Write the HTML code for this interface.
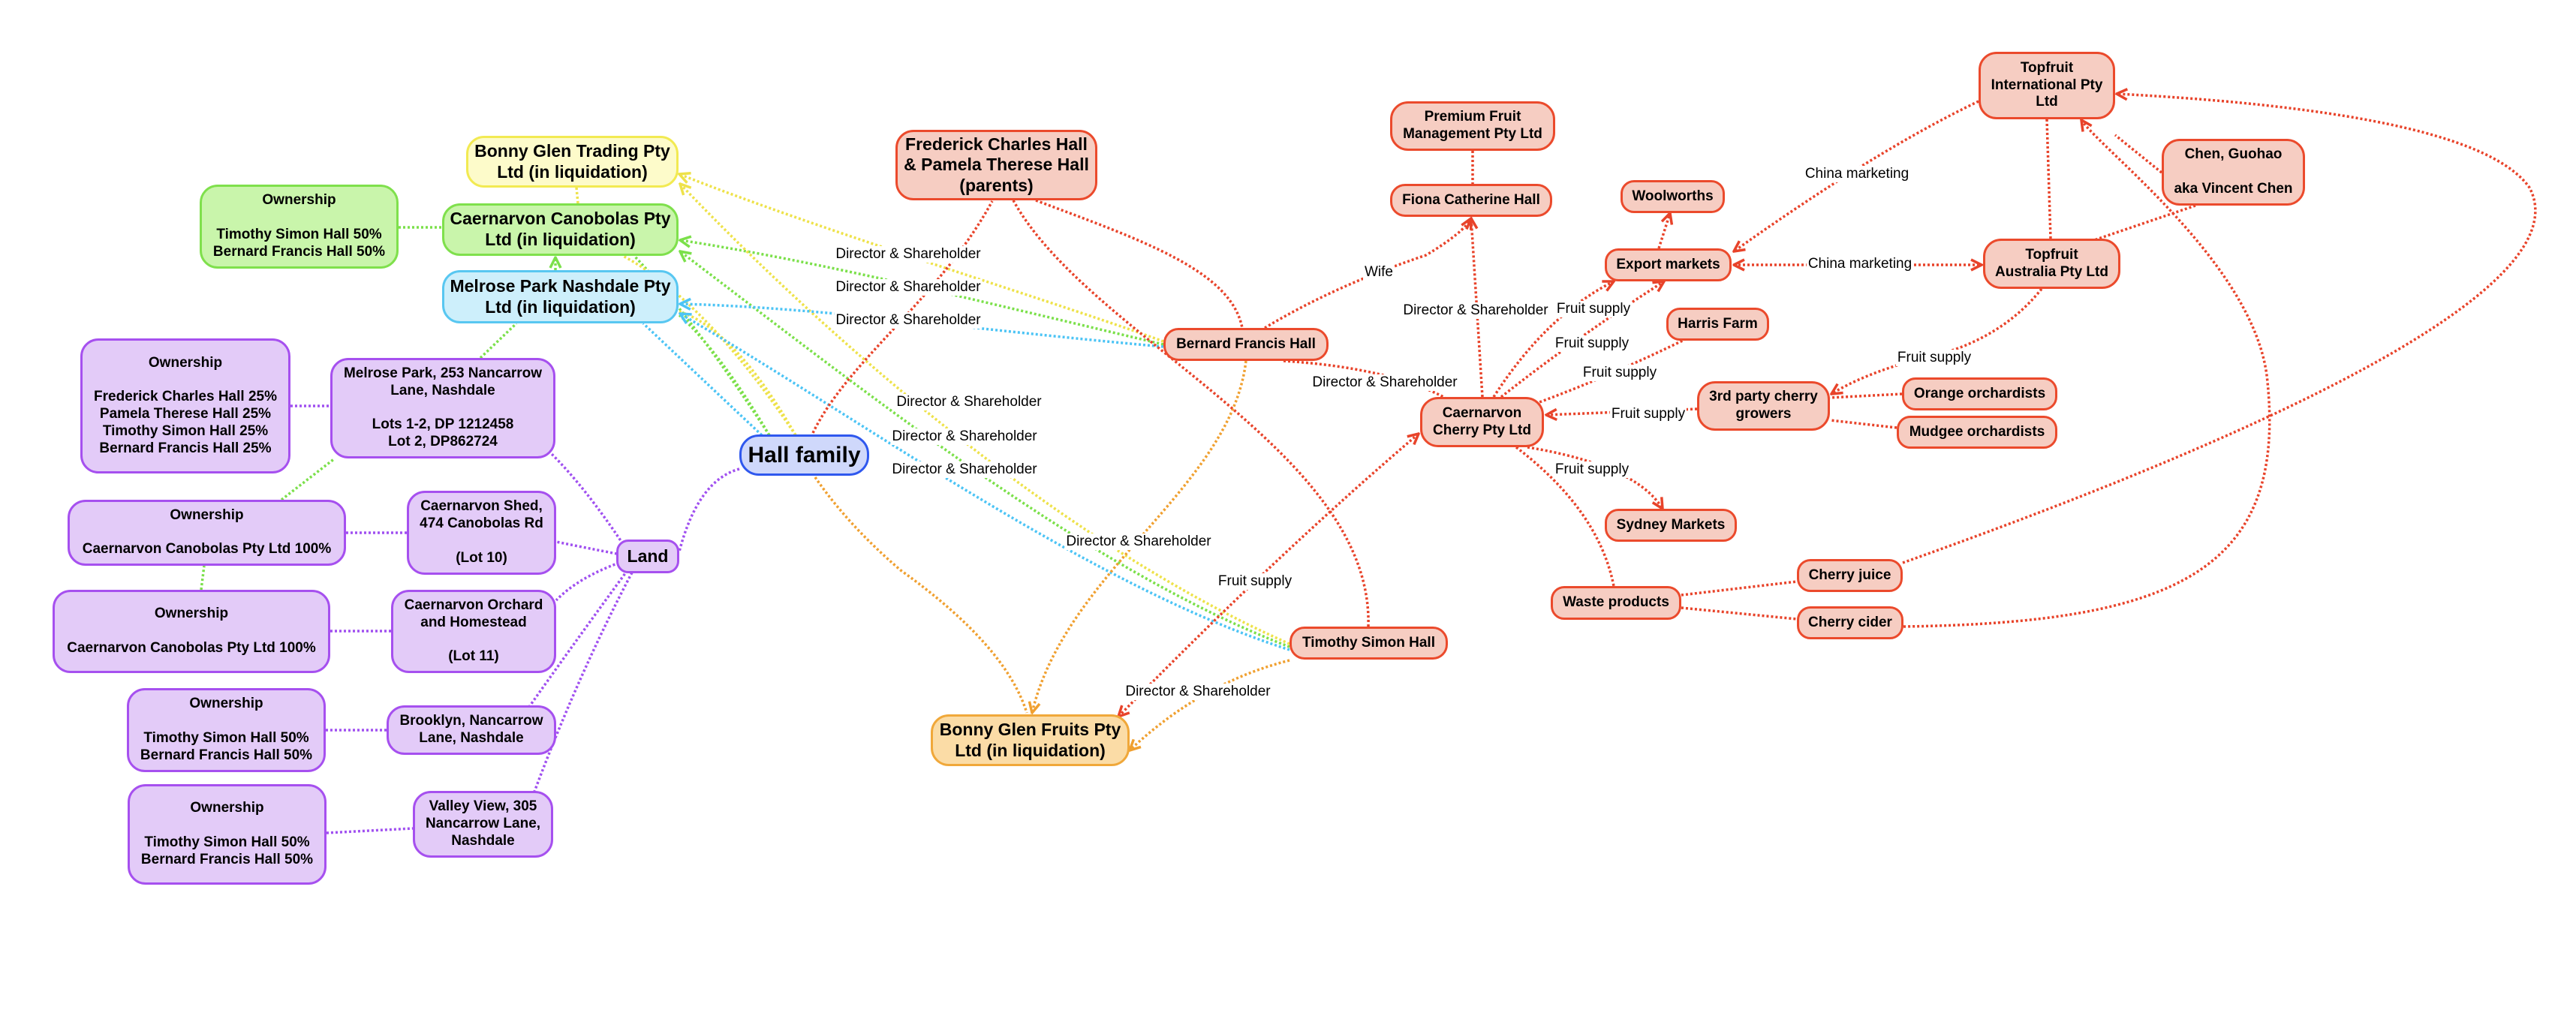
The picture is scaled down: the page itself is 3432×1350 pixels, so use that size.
<!DOCTYPE html>
<html><head><meta charset="utf-8">
<style>
body{margin:0;background:#fff;}
#c{position:relative;width:3432px;height:1350px;overflow:hidden;background:#fff;font-family:"Liberation Sans",Arial,sans-serif;}
svg{position:absolute;left:0;top:0;}
.n{position:absolute;box-sizing:border-box;border:3px solid;border-radius:24px;display:flex;align-items:center;justify-content:center;text-align:center;font-weight:bold;font-size:19px;line-height:1.2;color:#000;}
.y{background:#fdfbca;border-color:#f2ea52;font-size:23px;}
.g{background:#c9f5ab;border-color:#7fe04c;}
.b{background:#cdeffb;border-color:#58c7f1;font-size:23px;}
.p{background:#e3cbf8;border-color:#a650ef;}
.r{background:#f6cdc2;border-color:#eb4a2c;}
.o{background:#fbdca6;border-color:#f0a83a;font-size:23px;}
.l{position:absolute;transform:translate(-50%,-50%);background:#fff;font-size:19px;white-space:nowrap;padding:0 2px;}
</style></head><body><div id="c">
<svg width="3432" height="1350" viewBox="0 0 3432 1350" fill="none" stroke-width="3.5" stroke-dasharray="3 3">
<defs>
<marker id="ar" viewBox="0 0 10 10" refX="9" refY="5" markerWidth="5" markerHeight="5" orient="auto-start-reverse"><path d="M1,1 L9,5 L1,9" fill="none" stroke="#e8432a" stroke-width="2" stroke-dasharray="none"/></marker>
<marker id="ay" viewBox="0 0 10 10" refX="9" refY="5" markerWidth="5" markerHeight="5" orient="auto-start-reverse"><path d="M1,1 L9,5 L1,9" fill="none" stroke="#eee24a" stroke-width="2" stroke-dasharray="none"/></marker>
<marker id="ag" viewBox="0 0 10 10" refX="9" refY="5" markerWidth="5" markerHeight="5" orient="auto-start-reverse"><path d="M1,1 L9,5 L1,9" fill="none" stroke="#7be04a" stroke-width="2" stroke-dasharray="none"/></marker>
<marker id="ab" viewBox="0 0 10 10" refX="9" refY="5" markerWidth="5" markerHeight="5" orient="auto-start-reverse"><path d="M1,1 L9,5 L1,9" fill="none" stroke="#4cc4f5" stroke-width="2" stroke-dasharray="none"/></marker>
<marker id="ao" viewBox="0 0 10 10" refX="9" refY="5" markerWidth="5" markerHeight="5" orient="auto-start-reverse"><path d="M1,1 L9,5 L1,9" fill="none" stroke="#f0a030" stroke-width="2" stroke-dasharray="none"/></marker>
</defs>
<g stroke="#a050f0">
<path d="M985,625 Q930,640 905,735"/>
<path d="M830,725 Q780,650 735,605"/>
<path d="M822,738 Q780,730 741,722"/>
<path d="M825,750 Q770,770 741,800"/>
<path d="M836,760 Q770,850 705,942"/>
<path d="M842,763 Q770,900 712,1055"/>
<path d="M387,541 L440,541"/><path d="M461,710 L542,710"/><path d="M440,841 L521,841"/><path d="M434,973 L515,973"/><path d="M435,1110 L550,1104"/>
</g>
<g stroke="#7be04a">
<path d="M531,303 L589,303"/><path d="M640,477 L688,431"/><path d="M375,666 L446,611"/><path d="M268,786 L272,754"/>
<path d="M740,360 L740,343" marker-end="url(#ag)"/>
<path d="M1025,580 Q920,420 845,341"/>
<path d="M1025,580 Q960,470 905,420"/>
<path d="M1550,459 C1300,400 1100,350 906,320" marker-end="url(#ag)"/>
<path d="M1718,862 C1450,760 1150,520 906,335" marker-end="url(#ag)"/>
</g>
<g stroke="#eee24a">
<path d="M768,250 L770,271"/>
<path d="M1060,580 Q980,440 905,415"/>
<path d="M1060,580 Q940,400 830,341"/>
<path d="M1550,455 C1400,400 1100,310 905,232" marker-end="url(#ay)"/>
<path d="M1718,858 C1450,740 1150,500 906,245" marker-end="url(#ay)"/>
</g>
<g stroke="#4cc4f5">
<path d="M1015,580 Q930,500 857,431"/>
<path d="M1550,462 C1300,440 1100,410 906,405" marker-end="url(#ab)"/>
<path d="M1718,866 C1450,780 1150,560 906,418" marker-end="url(#ab)"/>
</g>
<g stroke="#f0a030">
<path d="M1086,636 Q1130,700 1200,760 Q1340,860 1368,950"/>
<path d="M1660,481 C1640,650 1420,760 1375,950" marker-end="url(#ao)"/>
<path d="M1718,880 Q1600,910 1505,1000" marker-end="url(#ao)"/>
</g>
<g stroke="#e8432a">
<path d="M1083,577 C1130,480 1250,400 1322,268"/>
<path d="M1380,267 C1520,320 1640,360 1655,437"/>
<path d="M1350,267 C1450,450 1830,600 1823,835"/>
<path d="M1710,481 Q1850,490 1925,530"/>
<path d="M1685,437 Q1780,380 1900,340 Q1950,310 1960,291" marker-end="url(#ar)"/>
<path d="M1975,529 L1960,291" marker-end="url(#ar)"/>
<path d="M1962,201 L1962,245"/>
<path d="M1490,955 Q1700,740 1890,578" marker-start="url(#ar)" marker-end="url(#ar)"/>
<path d="M1990,529 Q2060,420 2150,375" marker-end="url(#ar)"/>
<path d="M2000,529 Q2100,450 2217,375" marker-end="url(#ar)"/>
<path d="M2040,540 Q2150,500 2270,440" marker-end="url(#ar)"/>
<path d="M2261,545 L2060,553" marker-end="url(#ar)"/>
<path d="M2035,596 Q2180,620 2215,678" marker-end="url(#ar)"/>
<path d="M2020,596 Q2130,680 2150,781"/>
<path d="M2240,793 L2394,775"/><path d="M2240,810 L2394,825"/>
<path d="M2535,750 C2900,620 3450,400 3370,250 Q3300,150 2820,125" marker-end="url(#ar)"/>
<path d="M2536,835 C2900,830 3050,760 3020,500 C3000,350 2800,200 2773,160" marker-end="url(#ar)"/>
<path d="M2210,331 L2225,284" marker-end="url(#ar)"/>
<path d="M2636,135 Q2500,200 2310,335" marker-end="url(#ar)"/>
<path d="M2310,353 L2640,353" marker-start="url(#ar)" marker-end="url(#ar)"/>
<path d="M2727,159 L2732,318"/>
<path d="M2880,230 L2818,180"/><path d="M2925,274 L2790,320"/>
<path d="M2720,385 Q2660,460 2550,480 Q2480,500 2440,525" marker-end="url(#ar)"/>
<path d="M2534,525 L2438,530"/><path d="M2527,570 L2438,560"/>
</g>
</svg>

<div class="n y" style="left:621px;top:181px;width:283px;height:69px">Bonny Glen Trading Pty<br>Ltd (in liquidation)</div>
<div class="n g" style="left:266px;top:246px;width:265px;height:112px">Ownership<br><br>Timothy Simon Hall 50%<br>Bernard Francis Hall 50%</div>
<div class="n g" style="left:589px;top:271px;width:315px;height:70px;font-size:23px">Caernarvon Canobolas Pty<br>Ltd (in liquidation)</div>
<div class="n b" style="left:589px;top:360px;width:315px;height:71px">Melrose Park Nashdale Pty<br>Ltd (in liquidation)</div>
<div class="n p" style="left:107px;top:451px;width:280px;height:180px">Ownership<br><br>Frederick Charles Hall 25%<br>Pamela Therese Hall 25%<br>Timothy Simon Hall 25%<br>Bernard Francis Hall 25%</div>
<div class="n p" style="left:440px;top:477px;width:300px;height:134px">Melrose Park, 253 Nancarrow<br>Lane, Nashdale<br><br>Lots 1-2, DP 1212458<br>Lot 2, DP862724</div>
<div class="n p" style="left:90px;top:666px;width:371px;height:88px">Ownership<br><br>Caernarvon Canobolas Pty Ltd 100%</div>
<div class="n p" style="left:542px;top:654px;width:199px;height:112px">Caernarvon Shed,<br>474 Canobolas Rd<br><br>(Lot 10)</div>
<div class="n p" style="left:70px;top:786px;width:370px;height:111px">Ownership<br><br>Caernarvon Canobolas Pty Ltd 100%</div>
<div class="n p" style="left:521px;top:786px;width:220px;height:111px">Caernarvon Orchard<br>and Homestead<br><br>(Lot 11)</div>
<div class="n p" style="left:169px;top:917px;width:265px;height:112px">Ownership<br><br>Timothy Simon Hall 50%<br>Bernard Francis Hall 50%</div>
<div class="n p" style="left:515px;top:940px;width:226px;height:66px">Brooklyn, Nancarrow<br>Lane, Nashdale</div>
<div class="n p" style="left:170px;top:1045px;width:265px;height:134px">Ownership<br><br>Timothy Simon Hall 50%<br>Bernard Francis Hall 50%</div>
<div class="n p" style="left:550px;top:1054px;width:187px;height:89px">Valley View, 305<br>Nancarrow Lane,<br>Nashdale</div>
<div class="n p" style="left:821px;top:719px;width:84px;height:45px;font-size:23px;border-radius:16px">Land</div>
<div class="n" style="left:985px;top:579px;width:173px;height:55px;background:#cfd8fb;border-color:#2f58ee;font-size:30px;border-radius:26px">Hall family</div>

<div class="n r" style="left:1193px;top:173px;width:269px;height:94px;font-size:23px">Frederick Charles Hall<br>&amp; Pamela Therese Hall<br>(parents)</div>
<div class="n r" style="left:1852px;top:135px;width:220px;height:66px">Premium Fruit<br>Management Pty Ltd</div>
<div class="n r" style="left:1852px;top:245px;width:216px;height:44px;border-radius:20px">Fiona Catherine Hall</div>
<div class="n r" style="left:1550px;top:437px;width:220px;height:44px;border-radius:20px">Bernard Francis Hall</div>
<div class="n r" style="left:1892px;top:529px;width:165px;height:67px">Caernarvon<br>Cherry Pty Ltd</div>
<div class="n r" style="left:1718px;top:835px;width:211px;height:44px;border-radius:20px">Timothy Simon Hall</div>
<div class="n o" style="left:1240px;top:952px;width:265px;height:69px">Bonny Glen Fruits Pty<br>Ltd (in liquidation)</div>

<div class="n r" style="left:2636px;top:69px;width:182px;height:90px">Topfruit<br>International Pty<br>Ltd</div>
<div class="n r" style="left:2880px;top:185px;width:191px;height:89px">Chen, Guohao<br><br>aka Vincent Chen</div>
<div class="n r" style="left:2159px;top:240px;width:139px;height:44px;border-radius:18px">Woolworths</div>
<div class="n r" style="left:2138px;top:331px;width:169px;height:44px;border-radius:18px">Export markets</div>
<div class="n r" style="left:2642px;top:318px;width:183px;height:67px">Topfruit<br>Australia Pty Ltd</div>
<div class="n r" style="left:2220px;top:410px;width:137px;height:44px;border-radius:18px">Harris Farm</div>
<div class="n r" style="left:2261px;top:508px;width:177px;height:66px">3rd party cherry<br>growers</div>
<div class="n r" style="left:2534px;top:503px;width:207px;height:44px;border-radius:18px">Orange orchardists</div>
<div class="n r" style="left:2527px;top:554px;width:214px;height:44px;border-radius:18px">Mudgee orchardists</div>
<div class="n r" style="left:2138px;top:678px;width:176px;height:44px;border-radius:18px">Sydney Markets</div>
<div class="n r" style="left:2394px;top:745px;width:141px;height:44px;border-radius:18px">Cherry juice</div>
<div class="n r" style="left:2066px;top:781px;width:174px;height:45px;border-radius:18px">Waste products</div>
<div class="n r" style="left:2394px;top:808px;width:142px;height:44px;border-radius:18px">Cherry cider</div>

<div class="l" style="left:1210px;top:339px">Director &amp; Shareholder</div>
<div class="l" style="left:1210px;top:383px">Director &amp; Shareholder</div>
<div class="l" style="left:1210px;top:427px">Director &amp; Shareholder</div>
<div class="l" style="left:1291px;top:536px">Director &amp; Shareholder</div>
<div class="l" style="left:1285px;top:582px">Director &amp; Shareholder</div>
<div class="l" style="left:1285px;top:626px">Director &amp; Shareholder</div>
<div class="l" style="left:1517px;top:722px">Director &amp; Shareholder</div>
<div class="l" style="left:1845px;top:510px">Director &amp; Shareholder</div>
<div class="l" style="left:1966px;top:414px">Director &amp; Shareholder</div>
<div class="l" style="left:1596px;top:922px">Director &amp; Shareholder</div>
<div class="l" style="left:1837px;top:363px">Wife</div>
<div class="l" style="left:1672px;top:775px">Fruit supply</div>
<div class="l" style="left:2123px;top:412px">Fruit supply</div>
<div class="l" style="left:2121px;top:458px">Fruit supply</div>
<div class="l" style="left:2158px;top:497px">Fruit supply</div>
<div class="l" style="left:2196px;top:552px">Fruit supply</div>
<div class="l" style="left:2121px;top:626px">Fruit supply</div>
<div class="l" style="left:2577px;top:477px">Fruit supply</div>
<div class="l" style="left:2474px;top:232px">China marketing</div>
<div class="l" style="left:2478px;top:352px">China marketing</div>
</div></body></html>
